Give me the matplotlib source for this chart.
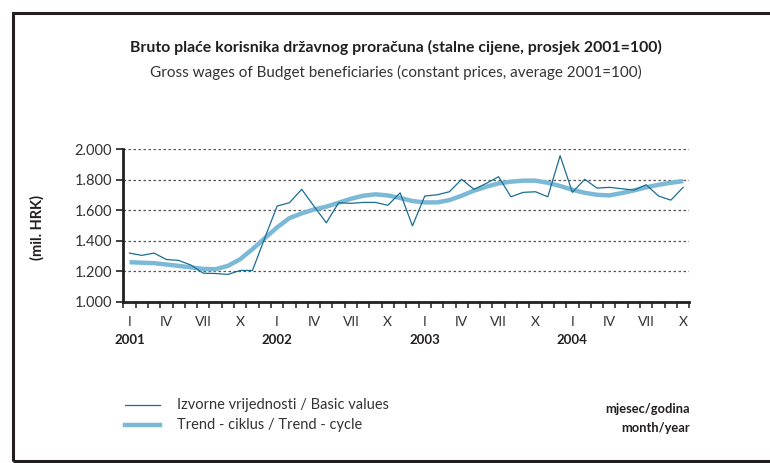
import matplotlib.pyplot as plt
import matplotlib.transforms as mtransforms
from matplotlib.ticker import FixedLocator, FuncFormatter

# Monthly data, Jan 2001 - Oct 2004 (mil. HRK)
years = ["2001", "2002", "2003", "2004"]
month_marks = ["I", "IV", "VII", "X"]

basic_values = [
    1318, 1303, 1318, 1276, 1270, 1239, 1186, 1184, 1178, 1204, 1204, 1418,
    1627, 1649, 1737, 1626, 1517, 1649, 1645, 1651, 1651, 1632, 1714, 1497,
    1693, 1701, 1721, 1803, 1737, 1776, 1820, 1688, 1717, 1721, 1688, 1958,
    1717, 1803, 1745, 1750, 1741, 1732, 1767, 1693, 1666, 1750,
]
trend_cycle = [
    1258, 1255, 1252, 1243, 1234, 1224, 1214, 1212, 1234, 1278, 1344, 1416,
    1487, 1548, 1579, 1605, 1623, 1649, 1675, 1695, 1704, 1697, 1680, 1660,
    1651, 1651, 1666, 1695, 1728, 1754, 1776, 1787, 1794, 1794, 1780, 1759,
    1734, 1714, 1701, 1697, 1712, 1730, 1750, 1767, 1780, 1791,
]

plt.rcParams['font.family'] = ['Lato', 'DejaVu Sans']
text_col = "#333333"
thin_col = "#1b6d94"
trend_col = "#7cb9d6"

fig = plt.figure(figsize=(7.7, 4.63), dpi=100)

# frame around the chart (right side runs off the picture)
frame = plt.Rectangle((13 / 770, 2 / 463), 1.2, 448 / 463, transform=fig.transFigure,
                      fill=False, edgecolor="#231f20", linewidth=2.2, clip_on=False)
fig.patches.append(frame)

ax = fig.add_axes([123.3 / 770, 161.5 / 463, 566 / 770, 152.2 / 463])

x = list(range(len(basic_values)))
ax.plot(x, trend_cycle, color=trend_col, linewidth=3.2, solid_capstyle="butt", zorder=2)
ax.plot(x, basic_values, color=thin_col, linewidth=0.9, zorder=3)

ax.set_xlim(-0.5, len(basic_values) - 0.5)
ax.set_ylim(1000, 2000)

# y axis
ax.set_yticks([1000, 1200, 1400, 1600, 1800, 2000])
ax.yaxis.set_major_formatter(FuncFormatter(lambda v, p: f"{v / 1000:.3f}"))
for yv in [1200, 1400, 1600, 1800, 2000]:
    ax.axhline(yv, color="#555555", linewidth=0.9, linestyle=(0, (2, 2)), zorder=1)
ax.tick_params(axis="y", direction="out", length=5, width=1.2, color="#231f20",
               labelsize=10.5, labelcolor=text_col, pad=3)

# x axis: ticks at month boundaries, labels below
ax.set_xticks([])
ax.xaxis.set_minor_locator(FixedLocator([i - 0.5 for i in range(len(basic_values) + 1)]))
ax.tick_params(axis="x", which="minor", direction="out", length=4, width=1.1, color="#231f20")

trans = mtransforms.blended_transform_factory(ax.transData, ax.transAxes)
for i in range(0, len(basic_values), 3):
    ax.text(i, -20 / 152.2, month_marks[(i % 12) // 3], transform=trans, ha="center",
            va="center", fontsize=10, color=text_col)
for k, yr in enumerate(years):
    ax.text(k * 12, -39 / 152.2, yr, transform=trans, ha="center", va="center",
            fontsize=9.5, fontweight="bold", color="#231f20")

for side in ["top", "right"]:
    ax.spines[side].set_visible(False)
for side in ["left", "bottom"]:
    ax.spines[side].set_linewidth(2)
    ax.spines[side].set_color("#231f20")

fig.text(37 / 770, 1 - 228 / 463, "(mil. HRK)", rotation=90, ha="center", va="center",
         fontsize=10.5, fontweight="bold", color="#231f20")

# titles
fig.text(396 / 770, 1 - 47 / 463, "Bruto plaće korisnika državnog proračuna (stalne cijene, prosjek 2001=100)",
         ha="center", va="center", fontsize=11.4, fontweight="bold", color="#231f20")
fig.text(396 / 770, 1 - 72 / 463, "Gross wages of Budget beneficiaries (constant prices, average 2001=100)",
         ha="center", va="center", fontsize=11, color=text_col)

# legend
fig.lines.append(plt.Line2D([125 / 770, 160 / 770], [1 - 405 / 463] * 2, transform=fig.transFigure,
                            color=thin_col, linewidth=0.9))
fig.lines.append(plt.Line2D([125 / 770, 160 / 770], [1 - 425 / 463] * 2, transform=fig.transFigure,
                            color=trend_col, linewidth=3.2))
fig.text(177 / 770, 1 - 405 / 463, "Izvorne vrijednosti / Basic values", ha="left", va="center",
         fontsize=10.5, color=text_col)
fig.text(177 / 770, 1 - 425 / 463, "Trend - ciklus / Trend - cycle", ha="left", va="center",
         fontsize=10.5, color=text_col)

fig.text(690 / 770, 1 - 409 / 463, "mjesec/godina", ha="right", va="center",
         fontsize=9.3, fontweight="bold", color="#231f20")
fig.text(690 / 770, 1 - 428 / 463, "month/year", ha="right", va="center",
         fontsize=9.3, fontweight="bold", color="#231f20")

fig.savefig("out.png", dpi=100)
